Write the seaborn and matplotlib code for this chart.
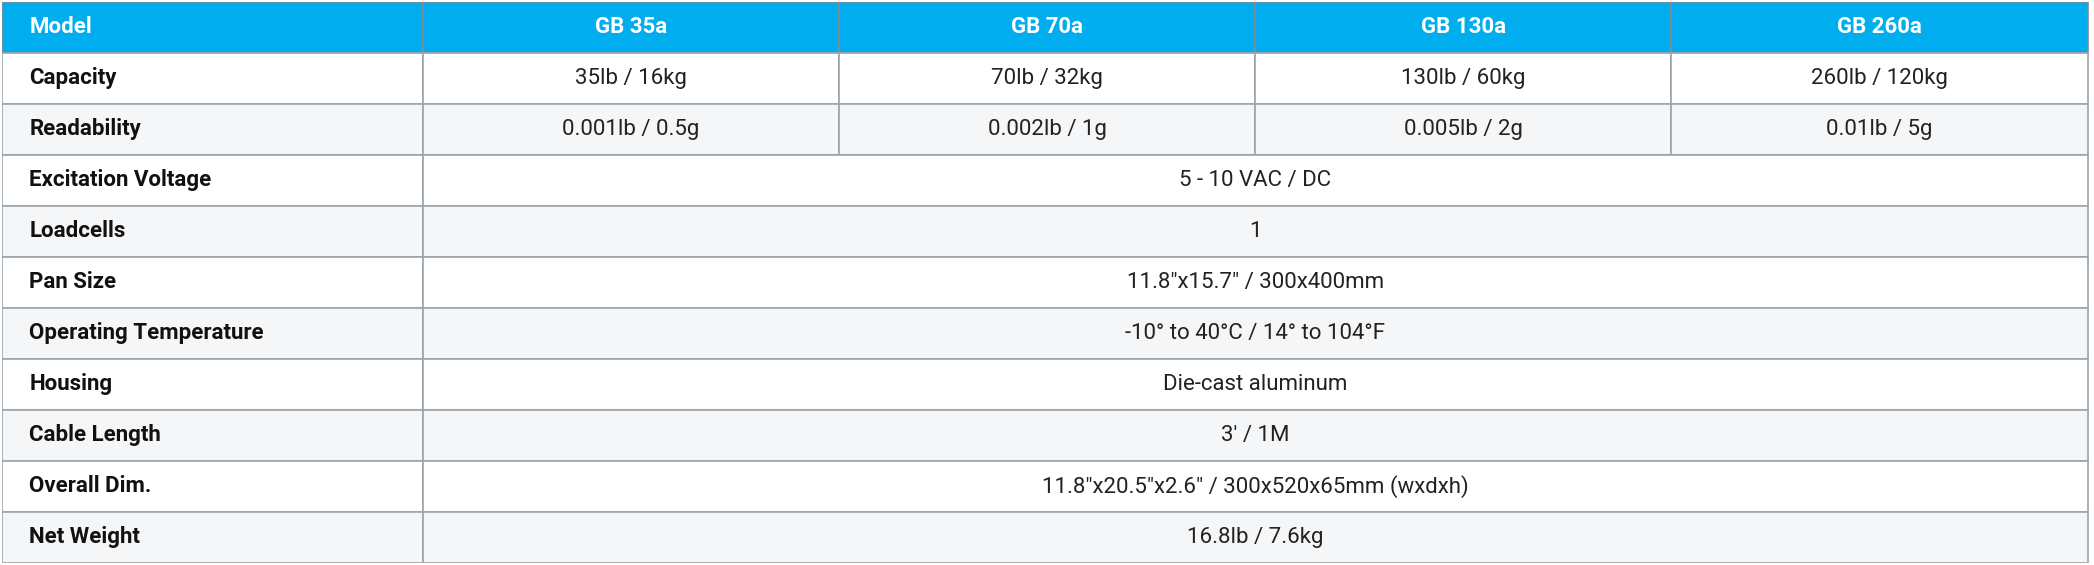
import matplotlib
matplotlib.use("Agg")
import matplotlib.pyplot as plt
from matplotlib.patches import Rectangle
import seaborn as sns

sns.set_theme(style="white")
plt.rcParams['font.family'] = ['Roboto', 'DejaVu Sans']

header = ["Model", "GB 35a", "GB 70a", "GB 130a", "GB 260a"]
row_labels = ["Capacity", "Readability", "Excitation Voltage", "Loadcells", "Pan Size",
              "Operating Temperature", "Housing", "Cable Length", "Overall Dim.", "Net Weight"]
capacity = ["35lb / 16kg", "70lb / 32kg", "130lb / 60kg", "260lb / 120kg"]
readability = ["0.001lb / 0.5g", "0.002lb / 1g", "0.005lb / 2g", "0.01lb / 5g"]
shared = ["5 - 10 VAC / DC", "1", "11.8\"x15.7\" / 300x400mm", "-10° to 40°C / 14° to 104°F",
          "Die-cast aluminum", "3' / 1M", "11.8\"x20.5\"x2.6\" / 300x520x65mm (wxdxh)", "16.8lb / 7.6kg"]

fig = plt.figure(figsize=(20.94, 5.65), dpi=100)
ax = fig.add_axes([0.001, 0.004, 0.997, 0.993])
nrows = 1 + len(row_labels)
ax.set_xlim(0, 5.015)
ax.set_ylim(nrows, 0)
ax.axis("off")

first_w = 1.01
colx = [0, first_w, first_w + 1, first_w + 2, first_w + 3, first_w + 4]
edge = "#9aa4ad"
blue = "#00AEEF"
grey = "#F4F6F8"
fs = 16

def cell(x0, x1, y, fc, ec=edge):
    ax.add_patch(Rectangle((x0, y), x1 - x0, 1, facecolor=fc, edgecolor=ec, linewidth=1.2))

for i, h in enumerate(header):
    cell(colx[i], colx[i + 1], 0, blue, "#7f8c96")
    if i == 0:
        ax.text(colx[0] + 0.065, 0.5, h, color="white", fontsize=fs, fontweight="bold", va="center", ha="left")
    else:
        ax.text((colx[i] + colx[i + 1]) / 2, 0.5, h, color="white", fontsize=fs, fontweight="bold", va="center", ha="center")

for r, lab in enumerate(row_labels):
    y = r + 1
    fc = "white" if r % 2 == 0 else grey
    cell(colx[0], colx[1], y, fc)
    ax.text(colx[0] + 0.065, y + 0.5, lab, color="#111111", fontsize=fs, fontweight="bold", va="center", ha="left")
    if r < 2:
        vals = capacity if r == 0 else readability
        for i, v in enumerate(vals):
            cell(colx[i + 1], colx[i + 2], y, fc)
            ax.text((colx[i + 1] + colx[i + 2]) / 2, y + 0.5, v, color="#222222", fontsize=fs, va="center", ha="center")
    else:
        cell(colx[1], colx[5], y, fc)
        ax.text((colx[1] + colx[5]) / 2, y + 0.5, shared[r - 2], color="#222222", fontsize=fs, va="center", ha="center")

fig.savefig("out.png", dpi=100, facecolor="white")
